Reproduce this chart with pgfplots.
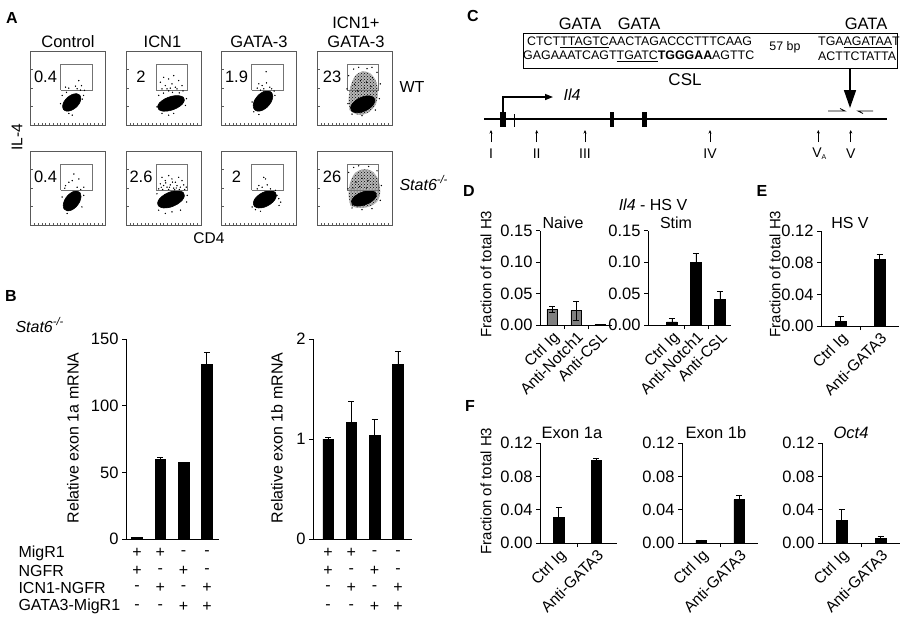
\documentclass[border=0pt]{standalone}
\usepackage{fontspec}
\setmainfont{Liberation Sans}
\usepackage{pgfplots}
\pgfplotsset{compat=1.18}
\usetikzlibrary{arrows.meta,patterns}
\newcommand{\fs}[1]{\fontsize{#1}{#1}\selectfont}
\definecolor{axgray}{gray}{0.35}
\definecolor{gatecol}{gray}{0.45}
\definecolor{naivegray}{gray}{0.5}
\pgfplotsset{
  flow/.style={scale only axis, width=75pt, height=74pt, anchor=north west,
    xmin=0, xmax=100, ymin=0, ymax=100,
    axis line style={axgray, line width=0.8pt},
    xtick={5,10,...,95}, ytick={25,50,75}, xticklabels={}, yticklabels={},
    xtick pos=bottom, ytick pos=left,
    tick style={axgray, line width=0.5pt}, major tick length=2.5pt, tick align=inside},
  blob/.style={fill=black, draw=black, line width=0.6pt, line join=round, smooth},
  halo/.style={fill=black!28, draw=black!28, line width=0.6pt, line join=round, smooth},
  halodots/.style={pattern=crosshatch dots, pattern color=black, draw=none, smooth},
  dots/.style={only marks, mark=*, mark size=0.45pt, black},
  gate/.style={gatecol, line width=0.8pt},
  bars/.style={scale only axis, anchor=south west, axis lines*=left, ymin=0,
    axis line style={black, line width=0.8pt}, tick style={black, line width=0.8pt},
    tick align=outside, major tick length=4pt, ytick pos=left, xtick pos=bottom,
    tick label style={font=\fs{16.5}}, clip=false},
  catx/.style={major x tick style={draw=none}, minor tick length=4pt,
    xticklabel style={rotate=45, anchor=north east, font=\fs{15.5}, inner sep=1pt}},
  bb/.style={ybar, bar width=10.5pt, fill=black, draw=black, line width=0.5pt,
    error bars/y dir=plus, error bars/y explicit,
    error bars/error mark options={rotate=90, mark size=3pt, line width=0.8pt, black},
    error bars/error bar style={line width=0.8pt, black}},
}
\begin{document}
\begin{tikzpicture}[x=1pt,y=-1pt]
\path[use as bounding box] (0,0) rectangle (909,624);

% ================= Panel A =================
\node[font=\bfseries\fs{16}] at (12,18) {A};
\node[font=\fs{16.5}] at (68,42) {Control};
\node[font=\fs{16.5}] at (162.5,42) {ICN1};
\node[font=\fs{16.5}] at (259,42) {GATA-3};
\node[font=\fs{16.5}] at (356,23) {ICN1+};
\node[font=\fs{16.5}] at (356,42) {GATA-3};
\node[font=\fs{16}, anchor=west] at (396,87) {WT};
\node[font=\fs{16}, anchor=west] at (396,183) {\textit{Stat6}\textsuperscript{\textit{-/-}}};
\node[font=\fs{15.5}, rotate=90] at (17,137.5) {IL-4};
\node[font=\fs{15.5}] at (209,238) {CD4};

% Row 1 box 1
\begin{axis}[flow, at={(30.5pt,-51pt)}]
\addplot[blob] coordinates {(65.9,40.1)(61.7,42.3)(55.7,41.3)(49.5,37.4)(44.7,31.6)(42.8,25.6)(44.1,20.9)(48.3,18.7)(54.3,19.7)(60.5,23.6)(65.3,29.4)(67.2,35.4)(65.9,40.1)};
\addplot[dots] coordinates {(46.7,51.1)(51.1,49.8)(60,52.4)(62.2,48.9)(64.4,60)(68,53.3)(42.2,40)(70.8,40)(72,46.7)(51.1,15.6)(40,28.9)(55.6,13.3)(66.6,47.1)(69,35)(48,44)};
\addplot[gate] coordinates {(40,47)(82,47)(82,82)(40,82)(40,47)};
\node[font=\fs{16.5}] at (axis cs:20,65) {0.4};
\end{axis}
% Row 1 box 2
\begin{axis}[flow, at={(126pt,-51pt)}]
\addplot[blob] coordinates {(76.1,37.8)(69.9,39.8)(61,38.9)(51.9,35.4)(44.9,30.2)(42.1,24.8)(43.9,20.6)(50.1,18.6)(59,19.5)(68.1,23)(75.1,28.2)(77.9,33.6)(76.1,37.8)};
\addplot[dots] coordinates {(45.8,57.8)(50.2,64.4)(52.4,53.3)(56.9,62.2)(61.3,55.6)(63.6,66.7)(65.8,51.1)(70.2,60)(74.7,53.3)(68,48.9)(54.7,48.9)(48,48.9)(59.1,49.8)(76,46)(43.6,40)(80.6,35.6)(79.3,26.4)(41.3,24.4)(48,15.6)(56.9,13.3)(63.6,15.6)(50,43)(62,44)(71,43.5)(57,46)};
\addplot[gate] coordinates {(40,47)(82,47)(82,82)(40,82)(40,47)};
\node[font=\fs{16.5}] at (axis cs:20,65) {2};
\end{axis}
% Row 1 box 3
\begin{axis}[flow, at={(221.5pt,-51pt)}]
\addplot[blob] coordinates {(67,43.7)(62.5,46.3)(56,45.1)(49.4,40.6)(44.3,33.8)(42.2,26.8)(43.6,21.3)(48.1,18.7)(54.6,19.9)(61.2,24.4)(66.3,31.2)(68.4,38.2)(67,43.7)};
\addplot[dots] coordinates {(59.6,72)(49.8,55.6)(54.2,53.3)(60,56.9)(64.4,51.1)(56.4,48.9)(66.9,48.9)(47.6,49.8)(71.2,40)(43.1,17.8)(49.8,14.2)(40.9,31.1)(70.1,45.9)(52,47)};
\addplot[gate] coordinates {(40,47)(82,47)(82,82)(40,82)(40,47)};
\node[font=\fs{16.5}] at (axis cs:20,65) {1.9};
\end{axis}
% Row 1 box 4
\begin{axis}[flow, at={(317pt,-51pt)}]
\addplot[halo] coordinates {(44,20)(42.5,35)(45,52)(51,66)(60,72)(70,70)(78,60)(81,45)(78,28)(68,17)(55,14)(44,20)};
\addplot[halodots] coordinates {(44,20)(42.5,35)(45,52)(51,66)(60,72)(70,70)(78,60)(81,45)(78,28)(68,17)(55,14)(44,20)};
\addplot[blob] coordinates {(75.6,37.3)(70,39.4)(61.9,38.5)(53.6,34.7)(47.3,29.1)(44.7,23.2)(46.4,18.7)(52,16.6)(60.1,17.5)(68.4,21.3)(74.7,26.9)(77.3,32.8)(75.6,37.3)};
\addplot[dots] coordinates {(42.2,66.7)(48.9,75.6)(73.3,77.8)(80,71.1)(84.4,55.6)(40,48.9)(41.3,28.9)(46.7,14.8)(60,12.6)(77.8,20.2)(83.1,35.6)(55.6,78)(66.7,76.1)(50,55)(58,60)(66,58)(72,52)(54,46)(63,50)(74,64)};
\addplot[gate] coordinates {(40,47)(82,47)(82,82)(40,82)(40,47)};
\node[font=\fs{16.5}] at (axis cs:20,65) {23};
\end{axis}
% Row 2 box 1
\begin{axis}[flow, at={(30.5pt,-151pt)}]
\addplot[blob] coordinates {(66.2,43.4)(62.1,45.9)(56.2,44.8)(50.1,40.4)(45.5,33.8)(43.6,26.9)(44.8,21.6)(48.9,19.1)(54.8,20.2)(60.9,24.6)(65.5,31.2)(67.4,38.1)(66.2,43.4)};
\addplot[dots] coordinates {(57.8,68.9)(46.7,53.3)(51.1,57.8)(55.6,60)(62.2,51.1)(64.4,62.2)(45.8,49.8)(71.1,51.1)(42.2,37.8)(71,40)(48.9,15.6)(68.6,24.4)(67,48)};
\addplot[gate] coordinates {(40,47)(82,47)(82,82)(40,82)(40,47)};
\node[font=\fs{16.5}] at (axis cs:20,65) {0.4};
\end{axis}
% Row 2 box 2
\begin{axis}[flow, at={(126pt,-151pt)}]
\addplot[blob] coordinates {(76.1,44.2)(69.9,46.4)(61,45.4)(51.9,41.5)(44.9,35.8)(42.1,29.9)(43.9,25.2)(50.1,23)(59,24)(68.1,27.9)(75.1,33.6)(77.9,39.5)(76.1,44.2)};
\addplot[dots] coordinates {(48,64.4)(52.4,60)(56.9,66.7)(61.3,62.2)(65.8,57.8)(70.2,64.4)(74.7,60)(45.8,55.6)(50.2,53.3)(54.7,51.1)(59.1,54.2)(63.6,49.8)(68,53.3)(72.4,51.1)(76.9,54.2)(80.3,51.1)(43.6,48.9)(48.9,48)(56.9,48)(64.9,47.6)(71.1,48)(78.2,48)(41.3,42.2)(81.6,40)(80.8,31.1)(43.6,20)(52.4,15.6)(61.3,17.8)(72.7,20)(53,57)(62,58)(58,51)(47,51)(67,50)};
\addplot[gate] coordinates {(40,47)(82,47)(82,82)(40,82)(40,47)};
\node[font=\fs{16.5}] at (axis cs:20,65) {2.6};
\end{axis}
% Row 2 box 3
\begin{axis}[flow, at={(221.5pt,-151pt)}]
\addplot[blob] coordinates {(71.6,44.2)(66.3,46.4)(58.6,45.4)(50.8,41.5)(44.8,35.8)(42.4,29.9)(44,25.2)(49.3,23)(57,24)(64.8,27.9)(70.8,33.6)(73.2,39.5)(71.6,44.2)};
\addplot[dots] coordinates {(56.4,64.4)(58.7,62.2)(49.8,53.3)(54.2,51.1)(60.9,54.2)(65.3,48.9)(47.6,48.9)(72,46.7)(76.4,35.6)(78.9,30.9)(76.7,26.4)(40.9,24.4)(45.3,20.8)(52,18.6)(74,40)};
\addplot[gate] coordinates {(40,47)(82,47)(82,82)(40,82)(40,47)};
\node[font=\fs{16.5}] at (axis cs:20,65) {2};
\end{axis}
% Row 2 box 4
\begin{axis}[flow, at={(317pt,-151pt)}]
\addplot[halo] coordinates {(45,26)(42.5,40)(44.5,57)(51,70)(62,75)(73,72.5)(81,62)(84,45)(80,32)(69,25)(55,23.5)(45,26)};
\addplot[halodots] coordinates {(45,26)(42.5,40)(44.5,57)(51,70)(62,75)(73,72.5)(81,62)(84,45)(80,32)(69,25)(55,23.5)(45,26)};
\addplot[blob] coordinates {(77.5,44.4)(71.7,46.4)(63.4,45.5)(55,42.1)(48.5,37)(45.9,31.7)(47.5,27.6)(53.3,25.6)(61.6,26.5)(70,29.9)(76.5,35)(79.1,40.3)(77.5,44.4)};
\addplot[dots] coordinates {(42.2,71.1)(55.6,80)(68.9,79.1)(80,73.3)(85.8,53.3)(84.4,33.3)(73.3,22.2)(60,20.8)(46.7,23)(41.3,48.9)(48.9,77.8)(52,58)(60,63)(68,60)(75,55)(57,52)(66,50)(48,50)};
\addplot[gate] coordinates {(40,47)(82,47)(82,82)(40,82)(40,47)};
\node[font=\fs{16.5}] at (axis cs:20,65) {26};
\end{axis}

% ================= Panel B =================
\node[font=\bfseries\fs{16}] at (11,296) {B};
\node[font=\fs{16}, anchor=west] at (12,325) {\textit{Stat6}\textsuperscript{\textit{-/-}}};
\node[font=\fs{16}, rotate=90] at (73,438) {Relative exon 1a mRNA};
\node[font=\fs{16}, rotate=90] at (277,438) {Relative exon 1b mRNA};

\begin{axis}[bars, at={(126pt,-539pt)}, width=93pt, height=200pt,
  xmin=-0.47, xmax=3.52, ymax=150, xtick=\empty,
  ytick={0,50,100,150}, yticklabels={0,50,100,150}]
\addplot[bb] coordinates {(0,1) +- (0,0) (1,59.5) +- (0,1.8) (2,57.5) +- (0,0) (3,130.75) +- (0,9.25)};
\end{axis}
\begin{axis}[bars, at={(313pt,-539pt)}, width=99pt, height=200pt,
  xmin=-0.644, xmax=3.605, ymax=2, xtick=\empty,
  ytick={0,1,2}, yticklabels={0,1,2}]
\addplot[bb] coordinates {(0,1.0) +- (0,0.02) (1,1.167) +- (0,0.21) (2,1.037) +- (0,0.156) (3,1.743) +- (0,0.134)};
\end{axis}

\begin{scope}[every node/.style={font=\fs{16}}]
\node[anchor=west] at (15,553.3) {MigR1};
\node[anchor=west] at (15,571) {NGFR};
\node[anchor=west] at (15,588.3) {ICN1-NGFR};
\node[anchor=west] at (15,606.7) {GATA3-MigR1};
\foreach \x/\a/\b/\c/\d in {137/+/+/-/-, 160.3/+/-/+/-, 183.6/-/+/-/+, 207/-/-/+/+,
                             328/+/+/-/-, 351.3/+/-/+/-, 374.6/-/+/-/+, 398/-/-/+/+}{
  \node at (\x,553.3) {\a};
  \node at (\x,571) {\b};
  \node at (\x,588.3) {\c};
  \node at (\x,606.7) {\d};
}
\end{scope}

% ================= Panel C =================
\node[font=\bfseries\fs{16}] at (473,16) {C};
\node[font=\fs{16.5}] at (580,24) {GATA};
\node[font=\fs{16.5}] at (639,24) {GATA};
\node[font=\fs{16.5}] at (866,24) {GATA};
\draw[line width=0.8pt] (523,33) rectangle (897,68);
\node[anchor=west, font=\fs{12.4}, inner sep=0] at (527,42.7) {CTCT\underline{TTAGTC}AACTAGACCCTTTCAAG};
\node[anchor=west, font=\fs{12.4}, inner sep=0] at (523,56.7) {GAGAAATCAGT\underline{TGATC}\textbf{TGGGAA}AGTTC};
\node[anchor=west, font=\fs{12.4}, inner sep=0] at (818,42.7) {TGA\underline{AGATAA}T};
\node[anchor=west, font=\fs{12.4}, inner sep=0] at (818,56.7) {ACTTCTATTA};
\node[font=\fs{12.4}] at (785,47) {57 bp};
\node[font=\fs{17}] at (685,80) {CSL};
\node[font=\itshape\fs{16}] at (572,95) {Il4};
\draw[line width=1.4pt, -{Triangle[length=8pt,width=6pt]}] (503,112) -- (503,97) -- (553,97);
\draw[line width=1.6pt, -{Triangle[length=18pt,width=12pt]}] (850,68) -- (850,108);
\draw[line width=0.8pt] (828,111) -- (845,111) -- (840,108.5);
\draw[line width=0.8pt] (873,111) -- (858,111) -- (863,113.5);
\draw[line width=2.2pt] (484,119) -- (887,119);
\fill (500,111.5) rectangle (505.5,126.5);
\draw[line width=1pt] (514.3,114) -- (514.3,126.5);
\fill (609.5,111.5) rectangle (614,126.5);
\fill (642,111.5) rectangle (646.5,126.5);
\foreach \x/\l in {491/I, 536.7/II, 585/III, 710/IV, 850.7/V}{
  \draw[line width=0.6pt, -{Stealth[length=3.5pt,width=3pt]}] (\x,142) -- (\x,130);
  \node[font=\fs{14}] at (\x,153.3) {\l};
}
\draw[line width=0.6pt, -{Stealth[length=3.5pt,width=3pt]}] (818.3,142) -- (818.3,130);
\node[font=\fs{14}] at (819.5,154) {V\textsubscript{\fs{7}A}};

% ================= Panel D =================
\node[font=\bfseries\fs{16}] at (469,191) {D};
\node[font=\fs{16}] at (653,205) {\textit{Il4} - HS V};
\node[font=\fs{16}] at (563,223) {Naive};
\node[font=\fs{16}] at (676,223) {Stim};
\node[font=\fs{15}, rotate=90] at (486,274) {Fraction of total H3};

\begin{axis}[bars, catx, at={(540pt,-325pt)}, width=72pt, height=94.3pt,
  xmin=-0.5, xmax=2.5, ymax=0.15,
  ytick={0,0.05,0.10,0.15}, yticklabels={0.00,0.05,0.10,0.15},
  xtick={0,1,2}, xticklabels={Ctrl Ig,Anti-Notch1,Anti-CSL}, minor xtick={0.5,1.5}]
\addplot[bb, fill=naivegray, error bars/y dir=both] coordinates {(0,0.0249) +- (0,0.0043) (1,0.0228) +- (0,0.0154) (2,0.001) +- (0,0.0003)};
\end{axis}
\begin{axis}[bars, catx, at={(648pt,-325pt)}, width=83pt, height=94.3pt,
  xmin=-1, xmax=2.46, ymax=0.15,
  ytick={0,0.05,0.10,0.15}, yticklabels={0.00,0.05,0.10,0.15},
  xtick={0,1,2}, xticklabels={Ctrl Ig,Anti-Notch1,Anti-CSL}, minor xtick={0.5,1.5}]
\addplot[bb] coordinates {(0,0.0048) +- (0,0.0058) (1,0.1002) +- (0,0.0132) (2,0.0408) +- (0,0.0122)};
\end{axis}

% ================= Panel E =================
\node[font=\bfseries\fs{16}] at (762,191) {E};
\node[font=\fs{16}] at (850,223) {HS V};
\node[font=\fs{15}, rotate=90] at (775,274) {Fraction of total H3};
\begin{axis}[bars, catx, at={(821pt,-326pt)}, width=78pt, height=95pt,
  xmin=-0.5, xmax=1.5, ymax=0.12,
  ytick={0,0.04,0.08,0.12}, yticklabels={0.00,0.04,0.08,0.12},
  xtick={0,1}, xticklabels={Ctrl Ig,Anti-GATA3}, minor xtick={0.5}]
\addplot[bb] coordinates {(0,0.0055) +- (0,0.0063) (1,0.0842) +- (0,0.0063)};
\end{axis}

% ================= Panel F =================
\node[font=\bfseries\fs{16}] at (470,406) {F};
\node[font=\fs{16.5}] at (572,433) {Exon 1a};
\node[font=\fs{16.5}] at (716,433) {Exon 1b};
\node[font=\itshape\fs{16.5}] at (851,433) {Oct4};
\node[font=\fs{15}, rotate=90] at (486,491) {Fraction of total H3};
\begin{axis}[bars, catx, at={(540pt,-543pt)}, width=77pt, height=100pt,
  xmin=-0.5, xmax=1.55, ymax=0.12,
  ytick={0,0.04,0.08,0.12}, yticklabels={0.00,0.04,0.08,0.12},
  xtick={0,1}, xticklabels={Ctrl Ig,Anti-GATA3}, minor xtick={0.5}]
\addplot[bb] coordinates {(0,0.0308) +- (0,0.0124) (1,0.0992) +- (0,0.002)};
\end{axis}
\begin{axis}[bars, catx, at={(682pt,-543pt)}, width=76pt, height=100pt,
  xmin=-0.5, xmax=1.5, ymax=0.12,
  ytick={0,0.04,0.08,0.12}, yticklabels={0.00,0.04,0.08,0.12},
  xtick={0,1}, xticklabels={Ctrl Ig,Anti-GATA3}, minor xtick={0.5}]
\addplot[bb] coordinates {(0,0.0032) +- (0,0.0005) (1,0.052) +- (0,0.0048)};
\end{axis}
\begin{axis}[bars, catx, at={(822pt,-543pt)}, width=78pt, height=100pt,
  xmin=-0.5, xmax=1.5, ymax=0.12,
  ytick={0,0.04,0.08,0.12}, yticklabels={0.00,0.04,0.08,0.12},
  xtick={0,1}, xticklabels={Ctrl Ig,Anti-GATA3}, minor xtick={0.5}]
\addplot[bb] coordinates {(0,0.0272) +- (0,0.0136) (1,0.006) +- (0,0.0025)};
\end{axis}
\end{tikzpicture}
\end{document}
